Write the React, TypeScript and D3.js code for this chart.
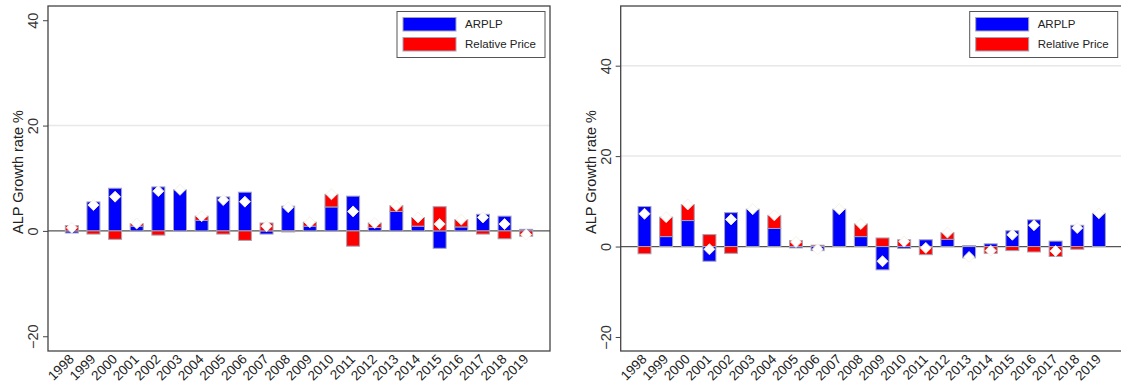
import { useEffect, useRef } from "react";
import * as d3 from "d3";

const years = [
  "1998", "1999", "2000", "2001", "2002", "2003", "2004", "2005", "2006", "2007", "2008",
  "2009", "2010", "2011", "2012", "2013", "2014", "2015", "2016", "2017", "2018", "2019",
];

// left panel
const leftArplp = [-0.4, 5.5, 8.1, 0.9, 8.35, 7.8, 2.0, 6.45, 7.35, -0.6, 4.7, 0.9, 4.55, 6.6, 0.65, 3.7, 0.9, -3.3, 0.75, 3.15, 2.8, 0.3];
const leftRelPrice = [1.0, -0.6, -1.6, 0.5, -0.8, 0, 0.8, -0.6, -1.8, 1.5, -0.2, 0.75, 2.4, -2.9, 0.85, 1.1, 1.65, 4.6, 1.4, -0.6, -1.5, -1.0];

// right panel
const rightArplp = [8.85, 2.2, 5.75, -3.25, 7.5, 8.25, 4.0, -0.3, -0.9, 8.25, 2.2, -5.15, -0.4, 1.5, 1.6, -2.5, 0.6, 3.5, 5.9, 1.2, 4.7, 7.35];
const rightRelPrice = [-1.6, 4.3, 3.55, 2.65, -1.5, 0, 2.9, 1.3, 0.3, 0, 2.8, 1.9, 1.5, -1.8, 1.5, 0.2, -1.5, -0.9, -1.2, -2.2, -0.6, 0];

const yTicks = [-20, 0, 20, 40];
const leftGrid = [20];
const rightGrid = [20, 40];

const seriesNames = ["ARPLP", "Relative Price"];
const seriesColors = ["#0000ff", "#ff0000"];

const WIDTH = 1121;
const HEIGHT = 390;
const FONT = "Arial, 'Liberation Sans', sans-serif";

function drawPanel(svg, opts) {
  const { left, right, top, bottom, yDomain, arplp, rel, grid } = opts;
  const g = svg.append("g");

  const x = d3
    .scaleBand()
    .domain(years)
    .range([left, right])
    .paddingInner(0.4)
    .paddingOuter(0.8);

  const y = d3.scaleLinear().domain(yDomain).range([bottom, top]);

  g.selectAll(".grid")
    .data(grid)
    .enter()
    .append("line")
    .attr("x1", left)
    .attr("x2", right)
    .attr("y1", (d) => y(d))
    .attr("y2", (d) => y(d))
    .attr("stroke", "#e8e8e8")
    .attr("stroke-width", 1.5);

  g.append("line")
    .attr("x1", left)
    .attr("x2", right)
    .attr("y1", y(0))
    .attr("y2", y(0))
    .attr("stroke", "#555")
    .attr("stroke-width", 1.2);

  const rows = years.map((yr, i) => ({ year: yr, ARPLP: arplp[i], "Relative Price": rel[i] }));
  const stacked = d3.stack().keys(seriesNames).offset(d3.stackOffsetDiverging)(rows);

  g.selectAll(".series")
    .data(stacked)
    .enter()
    .append("g")
    .attr("fill", (d, i) => seriesColors[i])
    .selectAll("rect")
    .data((d) => d)
    .enter()
    .append("rect")
    .attr("x", (d) => x(d.data.year))
    .attr("width", x.bandwidth())
    .attr("y", (d) => y(Math.max(d[0], d[1])))
    .attr("height", (d) => Math.abs(y(d[0]) - y(d[1])))
    .attr("stroke", "#a4a4b4")
    .attr("stroke-width", 1);

  // ALP growth marker (sum of both components)
  g.selectAll(".alp")
    .data(rows)
    .enter()
    .append("path")
    .attr("d", d3.symbol(d3.symbolSquare, 60))
    .attr(
      "transform",
      (d) => `translate(${x(d.year) + x.bandwidth() / 2},${y(d.ARPLP + d["Relative Price"])}) rotate(45)`
    )
    .attr("fill", "#fff")
    .attr("stroke", "#f4eee2")
    .attr("stroke-width", 0.8);

  // frame
  g.append("rect")
    .attr("x", left)
    .attr("y", top)
    .attr("width", right - left)
    .attr("height", bottom - top)
    .attr("fill", "none")
    .attr("stroke", "#444")
    .attr("stroke-width", 1.3);

  // y axis
  const yAxis = d3.axisLeft(y).tickValues(yTicks).tickSize(5).tickSizeOuter(0);
  const ya = g.append("g").attr("transform", `translate(${left},0)`).call(yAxis);
  ya.select(".domain").remove();
  ya.selectAll("line").attr("stroke", "#444");
  ya.selectAll("text")
    .attr("x", 0)
    .attr("dy", 0)
    .attr("transform", "translate(-10,0) rotate(-90)")
    .attr("text-anchor", "middle")
    .attr("fill", "#333")
    .style("font-family", FONT)
    .style("font-size", "14.5px");

  g.append("text")
    .attr("transform", `translate(${left - 25},172) rotate(-90)`)
    .attr("text-anchor", "middle")
    .attr("fill", "#222")
    .style("font-family", FONT)
    .style("font-size", "14.5px")
    .text("ALP Growth rate %");

  // x labels
  g.selectAll(".xlab")
    .data(years)
    .enter()
    .append("text")
    .attr("transform", (d) => `translate(${x(d) + x.bandwidth() / 2 + 3},${bottom + 9}) rotate(-45)`)
    .attr("text-anchor", "end")
    .attr("fill", "#222")
    .style("font-family", FONT)
    .style("font-size", "13.5px")
    .text((d) => d);

  // legend
  const lx = right - 153;
  const ly = 11.5;
  const leg = g.append("g");
  leg.append("rect")
    .attr("x", lx)
    .attr("y", ly)
    .attr("width", 148)
    .attr("height", 46)
    .attr("fill", "#fff")
    .attr("stroke", "#555")
    .attr("stroke-width", 1);
  seriesNames.forEach((name, i) => {
    leg.append("rect")
      .attr("x", lx + 6)
      .attr("y", ly + 6 + i * 20)
      .attr("width", 53)
      .attr("height", 13.5)
      .attr("fill", seriesColors[i])
      .attr("stroke", "#a4a4b4")
      .attr("stroke-width", 1);
    leg.append("text")
      .attr("x", lx + 68)
      .attr("y", ly + 12.7 + i * 20)
      .attr("dy", "0.35em")
      .attr("fill", "#222")
      .style("font-family", FONT)
      .style("font-size", "11.5px")
      .text(name);
  });
}

const App = () => {
  const svgRef = useRef(null);

  useEffect(() => {
    const svg = d3.select(svgRef.current);
    svg.selectAll("*").remove();

    drawPanel(svg, {
      left: 48,
      right: 550,
      top: 6,
      bottom: 351,
      yDomain: [-22.8, 42.7],
      arplp: leftArplp,
      rel: leftRelPrice,
      grid: leftGrid,
    });

    drawPanel(svg, {
      left: 620.7,
      right: 1122.7,
      top: 6,
      bottom: 351,
      yDomain: [-23.1, 53.2],
      arplp: rightArplp,
      rel: rightRelPrice,
      grid: rightGrid,
    });
  }, []);

  return (
    <div style={{ position: "absolute", left: 0, top: 0 }}>
      <svg ref={svgRef} width={WIDTH} height={HEIGHT} style={{ display: "block", background: "#fff" }} />
    </div>
  );
};

export default App;
